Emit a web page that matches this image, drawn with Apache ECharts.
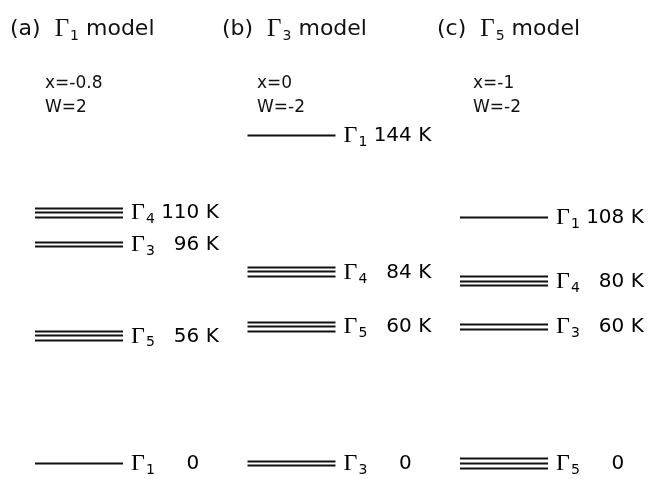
<!DOCTYPE html>
<html>
<head>
<meta charset="utf-8">
<script src="https://cdn.jsdelivr.net/npm/echarts@6/dist/echarts.min.js"></script>
<style>
  html, body { margin: 0; padding: 0; background: #fff; }
  #chart { width: 666px; height: 479px; }
</style>
</head>
<body>
<div id="chart"></div>
<script>
// Crystal-field level schemes for three ground-state models
const panelTags = ['(a)', '(b)', '(c)'];
const panelGround = ['1', '3', '5'];
const paramX = ['-0.8', '0', '-1'];
const paramW = ['2', '-2', '-2'];

// Irreducible representation (Γ subscript) and energy in K, per model
const irrepA = ['1', '5', '3', '4'];
const energyA = [0, 56, 96, 110];
const irrepB = ['3', '5', '4', '1'];
const energyB = [0, 60, 84, 144];
const irrepC = ['5', '3', '4', '1'];
const energyC = [0, 60, 80, 108];

// Number of parallel strokes = degeneracy of each irrep
const degeneracy = { '1': 1, '3': 2, '4': 3, '5': 3 };

const SANS = '"DejaVu Sans", "Liberation Sans", sans-serif';
const SERIF = '"Liberation Serif", "Times New Roman", serif';
const INK = '#111';
const LINE_LEN = 88;
const STROKE_GAP = 4.6;
const FIG_SPACE = '\u2007';

const richLabel = {
  g: { fontFamily: SERIF, fontSize: 24, color: INK },
  s: { fontFamily: SANS, fontSize: 14, color: INK, padding: [13, 0, 0, 1] },
  n: { fontFamily: SANS, fontSize: 20, color: INK }
};

function levelSeries(col, irreps, energies) {
  return {
    type: 'custom',
    coordinateSystem: 'cartesian2d',
    data: energies.map(e => [col, e]),
    silent: true,
    renderItem(params, api) {
      const i = params.dataIndex;
      const ir = irreps[i];
      const e = energies[i];
      const deg = degeneracy[ir];
      const p = api.coord([api.value(0), api.value(1)]);
      const children = [];
      for (let k = 0; k < deg; k++) {
        const y = Math.round(p[1] + (k - (deg - 1) / 2) * STROKE_GAP) + 0.5;
        children.push({
          type: 'line',
          shape: { x1: p[0], y1: y, x2: p[0] + LINE_LEN, y2: y },
          style: { stroke: INK, lineWidth: 1.8 }
        });
      }
      const num = String(e).padStart(3, FIG_SPACE);
      const valueText = ' ' + num + (e > 0 ? ' K' : '');
      children.push({
        type: 'text',
        x: p[0] + LINE_LEN + 8,
        y: p[1] + 1,
        style: {
          text: '{g|Γ}{s|' + ir + '}{n|' + valueText + '}',
          rich: richLabel,
          verticalAlign: 'middle',
          align: 'left'
        }
      });
      return { type: 'group', children };
    }
  };
}

const titleLefts = [5, 217, 432];
const paramLefts = [40, 252, 468];

const titles = [];
panelTags.forEach((tag, i) => {
  titles.push({
    left: titleLefts[i],
    top: 10,
    text: '{p|' + tag + '  }{g|Γ}{s|' + panelGround[i] + '}{p| model}',
    textStyle: {
      fontWeight: 'normal',
      rich: {
        p: { fontFamily: SANS, fontSize: 22, fontWeight: 'normal', color: INK },
        g: { fontFamily: SERIF, fontSize: 25, fontWeight: 'normal', color: INK },
        s: { fontFamily: SANS, fontSize: 14, fontWeight: 'normal', color: INK, padding: [14, 0, 0, 1] }
      }
    }
  });
  titles.push({
    left: paramLefts[i],
    top: 67,
    text: 'x=' + paramX[i] + '\nW=' + paramW[i],
    textStyle: { fontFamily: SANS, fontSize: 17, fontWeight: 'normal', color: INK, lineHeight: 24 }
  });
});

const chart = echarts.init(document.getElementById('chart'), null, { renderer: 'canvas' });
chart.setOption({
  animation: false,
  backgroundColor: '#fff',
  title: titles,
  grid: { left: 35, right: 206, top: 121, bottom: 16 },
  xAxis: { type: 'value', min: 0, max: 2, show: false },
  yAxis: { type: 'value', min: 0, max: 150, show: false },
  series: [
    levelSeries(0, irrepA, energyA),
    levelSeries(1, irrepB, energyB),
    levelSeries(2, irrepC, energyC)
  ]
});
</script>
</body>
</html>
